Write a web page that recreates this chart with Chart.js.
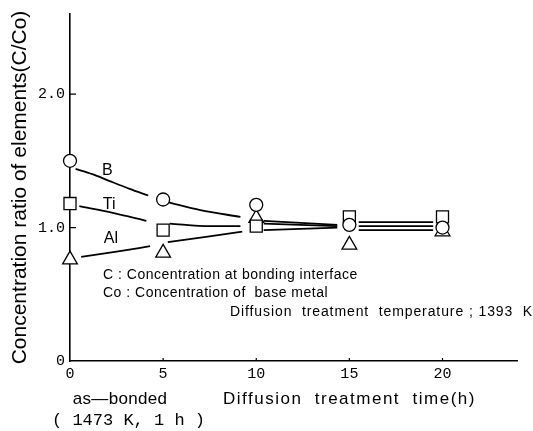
<!DOCTYPE html>
<html>
<head>
<meta charset="utf-8">
<script src="https://cdn.jsdelivr.net/npm/chart.js@4/dist/chart.umd.min.js"></script>
<style>
  body { margin: 0; background: #fff; }
</style>
</head>
<body>
<canvas id="diffusion" width="533" height="431"></canvas>
<script>
// measured points (as-bonded = 0 h)
const times = [0, 5, 10, 15, 20];
const bValues = [1.50, 1.21, 1.17, 1.02, 1.00];
const tiValues = [1.18, 0.98, 1.01, 1.08, 1.08];
const alValues = [0.76, 0.81, 1.07, 0.87, 0.97];

// hand drawn trend curves, null = break in the line
const bCurveX = [0.3, 1.2, 2.1, 3.2, 4.2, 4.6, 5.25, 7, 9.15, 9.8, 10.4, 14.35, 14.9, 15.5, 19.5];
const bCurveY = [1.44, 1.40, 1.35, 1.29, 1.24, null, 1.19, 1.13, 1.08, null, 1.05, 1.02, null, 1.04, 1.04];
const tiCurveX = [0.5, 2.3, 4.1, 4.7, 5.35, 7.5, 9.15, 9.8, 10.4, 14.35, 14.9, 15.5, 19.5];
const tiCurveY = [1.16, 1.11, 1.05, null, 1.03, 1.01, 1.01, null, 1.03, 1.01, null, 1.01, 1.01];
const alCurveX = [0.6, 2.5, 4.3, 4.8, 5.25, 7.3, 9.25, 9.8, 10.4, 14.35, 14.9, 15.5, 19.5];
const alCurveY = [0.78, 0.82, 0.86, null, 0.89, 0.93, 0.97, null, 0.98, 1.00, null, 0.98, 0.98];

const xTicks = [0, 5, 10, 15, 20];
const yTicks = [0, 1, 2];

const toPoints = (xs, ys) => xs.map((x, i) => ({ x: x, y: ys[i] }));

function curve(xs, ys) {
    return {
        type: "line",
        data: toPoints(xs, ys),
        borderColor: "#000",
        borderWidth: 1.8,
        pointRadius: 0,
        cubicInterpolationMode: "monotone",
        spanGaps: false,
        fill: false,
        order: 3
    };
}

function markers(ys, style, radius, order) {
    return {
        type: "scatter",
        data: toPoints(times, ys),
        pointStyle: style,
        pointRadius: radius,
        pointBackgroundColor: "#fff",
        pointBorderColor: "#000",
        pointBorderWidth: 1.3,
        clip: false,
        order: order
    };
}

const annotations = {
    id: "annotations",
    afterDraw(chart) {
        const ctx = chart.ctx;
        const x = chart.scales.x;
        const y = chart.scales.y;
        const area = chart.chartArea;
        ctx.save();
        ctx.fillStyle = "#000";
        ctx.strokeStyle = "#000";
        ctx.lineWidth = 1.2;

        // small inward ticks
        ctx.beginPath();
        [5, 10, 15, 20].forEach(v => {
            const px = x.getPixelForValue(v);
            ctx.moveTo(px, area.bottom);
            ctx.lineTo(px, area.bottom - 3);
        });
        [1, 2].forEach(v => {
            const py = y.getPixelForValue(v);
            ctx.moveTo(area.left, py);
            ctx.lineTo(area.left + 6, py);
        });
        ctx.stroke();

        // curve labels
        ctx.font = "16px 'Liberation Sans'";
        ctx.textAlign = "center";
        ctx.textBaseline = "middle";
        ctx.fillText("B", x.getPixelForValue(2.0), y.getPixelForValue(1.43));
        ctx.fillText("Ti", x.getPixelForValue(2.1), y.getPixelForValue(1.17));
        ctx.fillText("Al", x.getPixelForValue(2.2), y.getPixelForValue(0.92));

        // notes
        ctx.textAlign = "left";
        ctx.font = "14px 'Liberation Sans'";
        ctx.letterSpacing = "0.5px";
        ctx.fillText("C : Concentration at bonding interface", area.left + 33, 275);
        ctx.fillText("Co : Concentration of  base metal", area.left + 33, 293);
        ctx.letterSpacing = "0.9px";
        ctx.fillText("Diffusion  treatment  temperature ; 1393  K", area.left + 160, 312);

        // x axis captions
        ctx.font = "17px 'Liberation Sans'";
        ctx.letterSpacing = "0.3px";
        ctx.textAlign = "center";
        ctx.fillText("as\u2014bonded", area.left + 50, 399);
        ctx.textAlign = "left";
        ctx.letterSpacing = "1.5px";
        ctx.fillText("Diffusion  treatment  time(h)", area.left + 153, 399);
        ctx.letterSpacing = "0px";
        ctx.font = "17px 'Liberation Mono'";
        ctx.fillText("( 1473 K, 1 h )", 52, 420);
        ctx.restore();
    }
};

new Chart("diffusion", {
    type: "scatter",
    data: {
        datasets: [
            markers(bValues, "circle", 6.5, 0),
            markers(tiValues, "rect", 8.5, 1),
            markers(alValues, "triangle", 8.5, 2),
            curve(bCurveX, bCurveY),
            curve(tiCurveX, tiCurveY),
            curve(alCurveX, alCurveY)
        ]
    },
    options: {
        responsive: false,
        animation: false,
        layout: { padding: { top: 7, right: 16, left: 0, bottom: 0 } },
        plugins: {
            legend: { display: false },
            tooltip: { enabled: false }
        },
        scales: {
            x: {
                type: "linear",
                min: 0,
                max: 24,
                afterFit(s) { s.height = 70; },
                afterBuildTicks(s) { s.ticks = xTicks.map(v => ({ value: v })); },
                grid: { drawOnChartArea: false, drawTicks: false },
                border: { color: "#000", width: 1.6 },
                ticks: {
                    color: "#000",
                    padding: 4,
                    maxRotation: 0,
                    font: { family: "'Liberation Mono'", size: 15 }
                }
            },
            y: {
                type: "linear",
                min: 0,
                max: 2.6,
                afterFit(s) { s.width = 70; },
                afterBuildTicks(s) { s.ticks = yTicks.map(v => ({ value: v })); },
                grid: { drawOnChartArea: false, drawTicks: false },
                border: { color: "#000", width: 1.6 },
                ticks: {
                    color: "#000",
                    padding: 5,
                    font: { family: "'Liberation Mono'", size: 15 },
                    callback: v => v === 0 ? "0" : v.toFixed(1)
                },
                title: {
                    display: true,
                    text: "Concentration ratio of elements(C/Co)",
                    color: "#000",
                    font: { family: "'Liberation Sans'", size: 21 },
                    padding: { top: 8, bottom: 0 }
                }
            }
        }
    },
    plugins: [annotations]
});
</script>
</body>
</html>
